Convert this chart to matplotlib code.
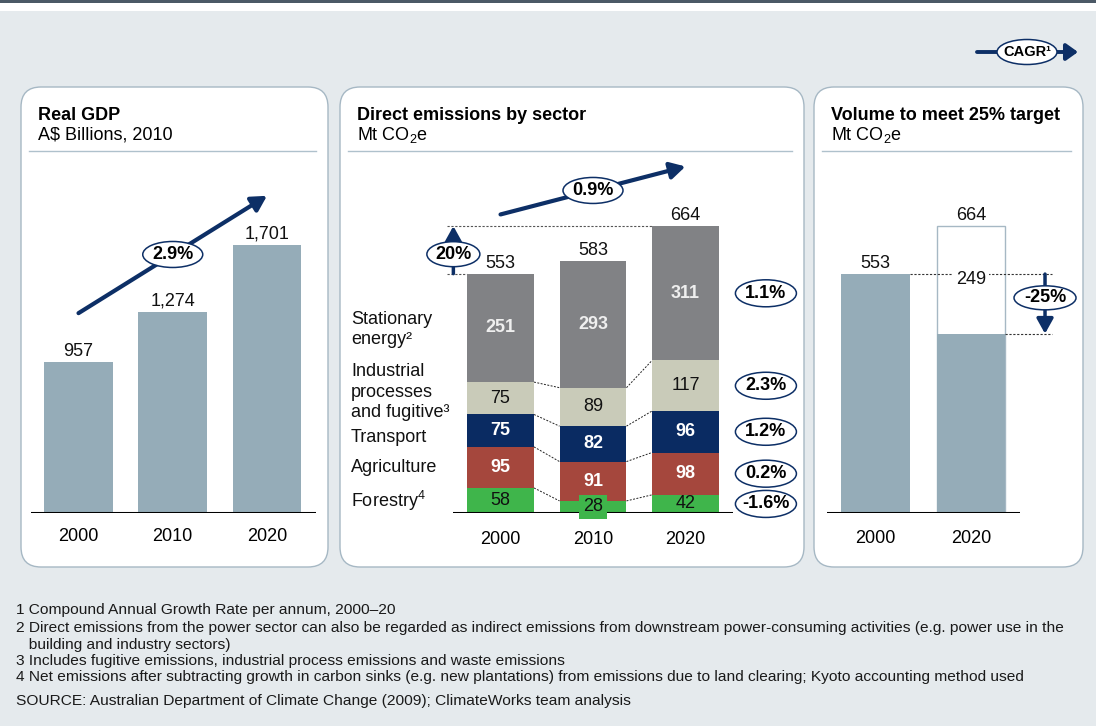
import matplotlib
matplotlib.use("Agg")
import matplotlib.pyplot as plt
import numpy as np
from matplotlib.patches import Ellipse, FancyBboxPatch, Rectangle

plt.rcParams["font.family"] = ["Liberation Sans", "DejaVu Sans"]
plt.rcParams["mathtext.fontset"] = "custom"
plt.rcParams["mathtext.rm"] = "Liberation Sans"
plt.rcParams["mathtext.it"] = "Liberation Sans:italic"
plt.rcParams["mathtext.bf"] = "Liberation Sans:bold"

# ---- data ----
gdp_years = ["2000", "2010", "2020"]
gdp_values = [957, 1274, 1701]
gdp_labels = ["957", "1,274", "1,701"]
gdp_cagr = "2.9%"

em_years = ["2000", "2010", "2020"]
sector_names = ["Forestry$^4$", "Agriculture", "Transport",
                "Industrial\nprocesses\nand fugitive\u00b3", "Stationary\nenergy\u00b2"]
forestry = [58, 28, 42]
agriculture = [95, 91, 98]
transport = [75, 82, 96]
industrial = [75, 89, 117]
stationary = [251, 293, 311]
em_totals = [553, 583, 664]
sector_cagr = ["-1.6%", "0.2%", "1.2%", "2.3%", "1.1%"]
total_cagr = "0.9%"
growth_label = "20%"

target_years = ["2000", "2020"]
target_base = [553, 664]
target_cut = 249
target_cut_label = "-25%"

footnotes = [
    "1 Compound Annual Growth Rate per annum, 2000\u201320",
    "2 Direct emissions from the power sector can also be regarded as indirect emissions from downstream power-consuming activities (e.g. power use in the",
    "   building and industry sectors)",
    "3 Includes fugitive emissions, industrial process emissions and waste emissions",
    "4 Net emissions after subtracting growth in carbon sinks (e.g. new plantations) from emissions due to land clearing; Kyoto accounting method used",
    "SOURCE: Australian Department of Climate Change (2009); ClimateWorks team analysis",
]

# ---- colours ----
BG = "#E5EAED"
PANEL_EDGE = "#A6B8C4"
RULE = "#AFC1CC"
BAR = "#95ACB8"
NAVY = "#0D2F66"
SEG_COLORS = ["#3FB54B", "#A5473D", "#0A2B62", "#C9CBB9", "#818285"]
SEG_TEXT = ["#111111", "white", "white", "#111111", "#EFEFEF"]
SEG_WEIGHT = ["normal", "bold", "bold", "normal", "bold"]
FS = 13

W, H = 1096, 726
fig = plt.figure(figsize=(W / 100, H / 100), dpi=100, facecolor=BG)

# background axes in pixel units (y down)
bg = fig.add_axes([0, 0, 1, 1])
bg.set_xlim(0, W)
bg.set_ylim(H, 0)
bg.axis("off")
bg.add_patch(Rectangle((0, 0), W, 11, fc="white", ec="none"))
bg.add_patch(Rectangle((0, 0), W, 2.5, fc="#4B5966", ec="none"))

panels = [(21, 328, "Real GDP", "A$ Billions, 2010"),
          (340, 804, "Direct emissions by sector", "Mt CO$_2$e"),
          (814, 1083, "Volume to meet 25% target", "Mt CO$_2$e")]
for x0, x1, title, sub in panels:
    bg.add_patch(FancyBboxPatch((x0, 87), x1 - x0, 480,
                                boxstyle="round,pad=0,rounding_size=20",
                                fc="white", ec=PANEL_EDGE, lw=1))
    bg.text(x0 + 17, 115, title, fontsize=FS, fontweight="bold", va="center")
    bg.text(x0 + 17, 135, sub, fontsize=FS, va="center")
    bg.plot([x0 + 8, x1 - 12], [151, 151], color=RULE, lw=1)

# CAGR legend
bg.annotate("", xy=(1078, 52), xytext=(977, 52),
            arrowprops=dict(arrowstyle="-|>,head_length=0.7,head_width=0.5",
                            lw=2.8, color=NAVY, shrinkA=0, shrinkB=0))
bg.add_patch(Ellipse((1027, 52), 60, 25, fc="white", ec=NAVY, lw=1.1, zorder=5))
bg.text(1027, 52, "CAGR\u00b9", fontsize=10.5, fontweight="bold",
        ha="center", va="center", zorder=6)

for y, line in zip([610, 628, 645, 661, 677, 701], footnotes):
    bg.text(16, y, line, fontsize=11.15, va="center", color="#1A1A1A")


def px_axes(x0, y0, x1, y1, pad=11):
    ax = fig.add_axes([x0 / W, 1 - y1 / H, (x1 - x0) / W, (y1 - y0) / H])
    ax.patch.set_visible(False)
    for s in ax.spines.values():
        s.set_visible(False)
    ax.set_yticks([])
    ax.tick_params(axis="x", length=0, pad=pad, labelsize=FS)
    return ax


def pill(ax, x, y, text, wpx, hpx, fs=FS):
    p0, p1 = ax.transData.transform([(0, 0), (1, 1)])
    sx, sy = p1 - p0
    ax.add_patch(Ellipse((x, y), wpx / sx, hpx / sy, fc="white", ec=NAVY,
                         lw=1.1, clip_on=False, zorder=8))
    ax.text(x, y, text, ha="center", va="center", fontsize=fs,
            fontweight="bold", zorder=9, clip_on=False)


def arrow(ax, start, end, lw=3.0):
    ax.annotate("", xy=end, xytext=start, annotation_clip=False,
                arrowprops=dict(arrowstyle="-|>,head_length=0.9,head_width=0.5",
                                lw=lw, color=NAVY, shrinkA=0, shrinkB=0),
                zorder=7)


def top_label(ax, x, y, text):
    ax.annotate(text, (x, y), xytext=(0, 1.5), textcoords="offset points",
                ha="center", va="bottom", fontsize=FS, color="#111111")


# ---- panel 1: GDP ----
ax1 = px_axes(31, 160, 316, 513)
ax1.set_xlim(-0.504, 2.52)
ax1.set_ylim(0, 2238)
x1 = np.arange(len(gdp_years))
ax1.bar(x1, gdp_values, width=0.73, color=BAR)
ax1.axhline(0, color="black", lw=2.2)
ax1.set_xticks(x1, gdp_years)
for x, v, lab in zip(x1, gdp_values, gdp_labels):
    top_label(ax1, x, v, lab)
lift = 310
arrow(ax1, (x1[0], gdp_values[0] + lift), (x1[-1], gdp_values[-1] + lift))
pill(ax1, (x1[0] + x1[-1]) / 2, (gdp_values[0] + gdp_values[-1]) / 2 + lift,
     gdp_cagr, 60, 26)

# ---- panel 2: emissions by sector ----
ax2 = px_axes(453, 160, 733, 513, pad=13)
ax2.set_xlim(-0.514, 2.514)
ax2.set_ylim(0, 817)
x2 = np.arange(len(em_years))
bw = 0.724
layers = [forestry, agriculture, transport, industrial, stationary]
bottoms = np.zeros(len(em_years))
cum = [bottoms.copy()]
for vals, col, tc, fw in zip(layers, SEG_COLORS, SEG_TEXT, SEG_WEIGHT):
    vals = np.array(vals)
    ax2.bar(x2, vals, width=bw, bottom=bottoms, color=col, zorder=2)
    for x, b, v in zip(x2, bottoms, vals):
        box = None
        if v < 35:
            box = dict(boxstyle="square,pad=0.2", fc=col, ec="none")
        ax2.text(x, b + v / 2, str(v), ha="center", va="center", fontsize=FS,
                 color=tc, fontweight=fw, bbox=box, zorder=4)
    bottoms = bottoms + vals
    cum.append(bottoms.copy())
ax2.axhline(0, color="black", lw=2.2, zorder=3)
ax2.set_xticks(x2, em_years)

# connectors between bars
for k in range(1, len(layers)):
    for i in range(len(em_years) - 1):
        ax2.plot([x2[i] + bw / 2, x2[i + 1] - bw / 2], [cum[k][i], cum[k][i + 1]],
                 color="#222222", lw=0.7, ls=(0, (2, 1.5)), zorder=1)

tops = cum[-1]
for x, t, lab in zip(x2, tops, em_totals):
    top_label(ax2, x, t, str(lab))

# growth 2000 -> 2020 bracket
ax2.plot([-0.578, x2[-1] - bw / 2], [tops[-1], tops[-1]], color="#555555",
         lw=0.8, ls=(0, (2, 1.5)), clip_on=False, zorder=1)
ax2.plot([-0.578, x2[0] - bw / 2], [tops[0], tops[0]], color="#555555",
         lw=0.8, ls=(0, (2, 1.5)), clip_on=False, zorder=1)
arrow(ax2, (-0.51, tops[0]), (-0.51, tops[-1]), lw=2.5)
pill(ax2, -0.51, (tops[0] + tops[-1]) / 2 - 10, growth_label, 53, 25)

# overall trend
lift2 = 138
arrow(ax2, (x2[0], em_totals[0] + lift2), (x2[-1], em_totals[-1] + lift2))
pill(ax2, (x2[0] + x2[-1]) / 2, (em_totals[0] + em_totals[-1]) / 2 + lift2,
     total_cagr, 60, 26)

# sector names on the left, CAGR pills on the right
name_nudge = [0, 0, -5, 4.5, -1]
for k, name in enumerate(sector_names):
    ymid = (cum[k][0] + cum[k + 1][0]) / 2
    ax2.annotate(name, (-1.616, ymid), xytext=(0, name_nudge[k]),
                 textcoords="offset points", ha="left", va="center",
                 fontsize=FS, linespacing=1.25, color="#111111",
                 annotation_clip=False)
    ymid20 = (cum[k][-1] + cum[k + 1][-1]) / 2
    pill(ax2, 2.87, ymid20, sector_cagr[k], 61, 27)

# ---- panel 3: target ----
ax3 = px_axes(827, 160, 1020, 513, pad=12)
ax3.set_xlim(-0.508, 1.513)
ax3.set_ylim(0, 817)
x3 = np.arange(len(target_years))
target_2020 = target_base[1] - target_cut
ax3.bar(x3[1], target_base[1], width=0.72, fc="white", ec=PANEL_EDGE, lw=1, zorder=1)
ax3.bar(x3, [target_base[0], target_2020], width=0.72, color=BAR, zorder=2)
ax3.axhline(0, color="black", lw=2.2, zorder=3)
ax3.set_xticks(x3, target_years)
for x, v in zip(x3, target_base):
    top_label(ax3, x, v, str(v))
ax3.plot([x3[0] + 0.36, 1.85], [target_base[0], target_base[0]], color="#333333",
         lw=0.8, ls=(0, (2, 1.5)), clip_on=False, zorder=2)
ax3.plot([x3[1] + 0.36, 1.85], [target_2020, target_2020], color="#333333",
         lw=0.8, ls=(0, (2, 1.5)), clip_on=False, zorder=2)
ax3.text(x3[1], target_2020 + target_cut / 2, str(target_cut), ha="center",
         va="center", fontsize=FS, color="#111111", zorder=5,
         bbox=dict(boxstyle="square,pad=0.15", fc="white", ec="none"))
arrow(ax3, (1.775, target_base[0]), (1.775, target_2020), lw=2.5)
pill(ax3, 1.775, (target_base[0] + target_2020) / 2 + 14, target_cut_label, 62, 24)

fig.savefig("out.png", dpi=100, facecolor=fig.get_facecolor())
